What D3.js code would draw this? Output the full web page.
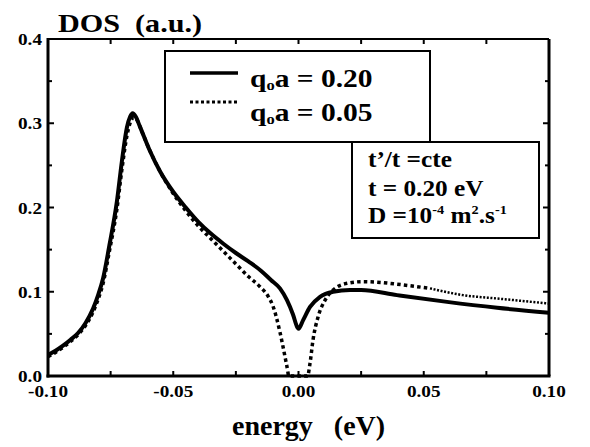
<!DOCTYPE html>
<html>
<head>
<meta charset="utf-8">
<script src="https://cdn.jsdelivr.net/npm/d3@7"></script>
<style>
  html, body { margin: 0; padding: 0; background: #fff; }
  svg { display: block; }
  text { font-family: "Liberation Serif", "Times New Roman", serif; font-weight: bold; fill: #000; white-space: pre; }
</style>
</head>
<body>
<svg id="chart" width="590" height="447"></svg>
<script>
// ---- data ----
const energy020 = [-0.100,-0.097,-0.094,-0.091,-0.088,-0.085,-0.082,-0.080,-0.078,-0.0755,-0.0725,-0.0705,-0.0685,-0.0672,-0.0662,-0.0650,-0.0633,-0.0593,-0.0553,-0.0501,-0.045,-0.040,-0.035,-0.030,-0.025,-0.020,-0.015,-0.011,-0.0074,-0.0046,-0.0022,-0.0005,0.0000,0.0018,0.0046,0.0086,0.0138,0.0206,0.0250,0.0393,0.0593,0.0793,0.1000];
const dos020    = [0.025,0.030,0.036,0.043,0.051,0.063,0.080,0.096,0.116,0.155,0.207,0.255,0.295,0.308,0.312,0.308,0.296,0.267,0.243,0.219,0.200,0.183,0.169,0.157,0.146,0.136,0.125,0.114,0.104,0.090,0.073,0.058,0.056,0.066,0.082,0.094,0.100,0.102,0.102,0.096,0.088,0.081,0.075];

const energy005 = [-0.100,-0.097,-0.094,-0.091,-0.088,-0.085,-0.082,-0.080,-0.078,-0.0755,-0.0725,-0.0705,-0.0685,-0.0670,-0.0658,-0.0645,-0.0625,-0.0600,-0.0553,-0.0501,-0.045,-0.040,-0.035,-0.030,-0.025,-0.020,-0.0154,-0.0120,-0.0102,-0.0074,-0.0054,-0.0042,-0.0040,0.0036,0.0046,0.0058,0.0078,0.0106,0.0138,0.0194,0.0258,0.0330,0.0393,0.0525,0.0657,0.0793,0.1000];
const dos005    = [0.023,0.028,0.034,0.041,0.049,0.060,0.076,0.091,0.110,0.148,0.198,0.245,0.285,0.302,0.307,0.304,0.290,0.272,0.243,0.217,0.196,0.178,0.163,0.148,0.133,0.118,0.106,0.094,0.083,0.052,0.023,0.004,0.000,0.000,0.015,0.043,0.070,0.090,0.102,0.110,0.112,0.111,0.109,0.104,0.096,0.092,0.086];

const xTickLabels = ["-0.10","-0.05","0.00","0.05","0.10"];
const yTickLabels = ["0.0","0.1","0.2","0.3","0.4"];
const xMinorTicks = [-0.075,-0.025,0.025,0.075];
const yMinorTicks = [0.05,0.15,0.25,0.35];
const legendLabels = ["0.20","0.05"];

// ---- layout ----
const svg = d3.select("#chart");
const L = 48, R = 549, T = 39, B = 376;
const x = d3.scaleLinear().domain([-0.10, 0.10]).range([L, R]);
const y = d3.scaleLinear().domain([0, 0.4]).range([B, T]);

// text helper with horizontal stretch (reference type is wide)
function stext(g, tx, ty, size, sx, anchor) {
  return g.append("text")
    .attr("transform", `translate(${tx},${ty}) scale(${sx},1)`)
    .attr("font-size", size)
    .attr("text-anchor", anchor || "start");
}

// ticks (inside)
const xMajor = xTickLabels.map(Number), yMajor = yTickLabels.map(Number);
const tickG = svg.append("g").attr("stroke", "#000").attr("stroke-width", 2);
xMajor.concat(xMinorTicks).forEach(v => {
  tickG.append("line").attr("x1", x(v)).attr("x2", x(v)).attr("y1", B).attr("y2", B - 5);
  tickG.append("line").attr("x1", x(v)).attr("x2", x(v)).attr("y1", T).attr("y2", T + 5);
});
yMajor.concat(yMinorTicks).forEach(v => {
  const len = yMajor.includes(v) ? 6 : 4;
  tickG.append("line").attr("x1", L).attr("x2", L + len).attr("y1", y(v)).attr("y2", y(v));
  tickG.append("line").attr("x1", R).attr("x2", R - len).attr("y1", y(v)).attr("y2", y(v));
});

// frame
svg.append("line").attr("x1", L).attr("x2", R).attr("y1", T).attr("y2", T).attr("stroke", "#000").attr("stroke-width", 2);
svg.append("line").attr("x1", R).attr("x2", R).attr("y1", T).attr("y2", B).attr("stroke", "#000").attr("stroke-width", 3);
svg.append("line").attr("x1", L).attr("x2", L).attr("y1", T - 1).attr("y2", B + 1.5).attr("stroke", "#000").attr("stroke-width", 3);
svg.append("line").attr("x1", L - 1.5).attr("x2", R + 1.5).attr("y1", B).attr("y2", B).attr("stroke", "#000").attr("stroke-width", 3);

// tick labels
const xl = svg.append("g");
xTickLabels.forEach(d => stext(xl, x(+d), 397, 16, 1.2, "middle").text(d));
const yl = svg.append("g");
yTickLabels.forEach(d => stext(yl, 42, y(+d) + 6, 16, 1.2, "end").text(d));

// axis titles
stext(svg, 58, 32, 26, 1.16).text("DOS  (a.u.)");
stext(svg, 232, 435, 28, 1.0).text("energy   (eV)");

// curves
const line = d3.line().x(d => x(d[0])).y(d => y(d[1])).curve(d3.curveMonotoneX);
const d005 = energy005.map((e, i) => [e, dos005[i]]);
const d020 = energy020.map((e, i) => [e, dos020[i]]);

svg.append("path").datum(d005.filter(d => d[0] <= 0.06))
  .attr("d", line).attr("fill", "none").attr("stroke", "#000")
  .attr("stroke-width", 3.5).attr("stroke-dasharray", "3.5,3.2");
svg.append("path").datum(d005.filter(d => d[0] >= 0.0525))
  .attr("d", line).attr("fill", "none").attr("stroke", "#000")
  .attr("stroke-width", 2.5).attr("stroke-dasharray", "2,1.6");
svg.append("path").datum(d020)
  .attr("d", line).attr("fill", "none").attr("stroke", "#000")
  .attr("stroke-width", 4).attr("stroke-linejoin", "round");

// legend box
const lg = svg.append("g");
lg.append("rect").attr("x", 165).attr("y", 51).attr("width", 265).attr("height", 91)
  .attr("fill", "#fff").attr("stroke", "#000").attr("stroke-width", 2);
lg.append("line").attr("x1", 190).attr("x2", 238).attr("y1", 73).attr("y2", 73)
  .attr("stroke", "#000").attr("stroke-width", 3.5);
lg.append("line").attr("x1", 190).attr("x2", 238).attr("y1", 102).attr("y2", 102)
  .attr("stroke", "#000").attr("stroke-width", 3).attr("stroke-dasharray", "3,2.5");
legendLabels.forEach((lab, i) => {
  const t = stext(lg, 250, 87 + i * 34, 25, 1.18);
  t.append("tspan").text("q");
  t.append("tspan").attr("font-size", 14).attr("dy", 3).text("o");
  t.append("tspan").attr("dy", -3).text("a = " + lab);
});

// parameter box
const pb = svg.append("g");
pb.append("rect").attr("x", 352).attr("y", 142).attr("width", 187).attr("height", 96)
  .attr("fill", "#fff").attr("stroke", "#000").attr("stroke-width", 2);
stext(pb, 368, 167, 23, 1.1).text("t\u2019/t =cte");
stext(pb, 368, 196, 23, 1.1).text("t = 0.20 eV");
const dt = stext(pb, 368, 223, 23, 1.1);
dt.append("tspan").text("D =10");
dt.append("tspan").attr("font-size", 13).attr("dy", -9).text("-4");
dt.append("tspan").attr("dy", 9).text(" m");
dt.append("tspan").attr("font-size", 13).attr("dy", -9).text("2");
dt.append("tspan").attr("dy", 9).text(".s");
dt.append("tspan").attr("font-size", 13).attr("dy", -9).text("-1");
</script>
</body>
</html>
